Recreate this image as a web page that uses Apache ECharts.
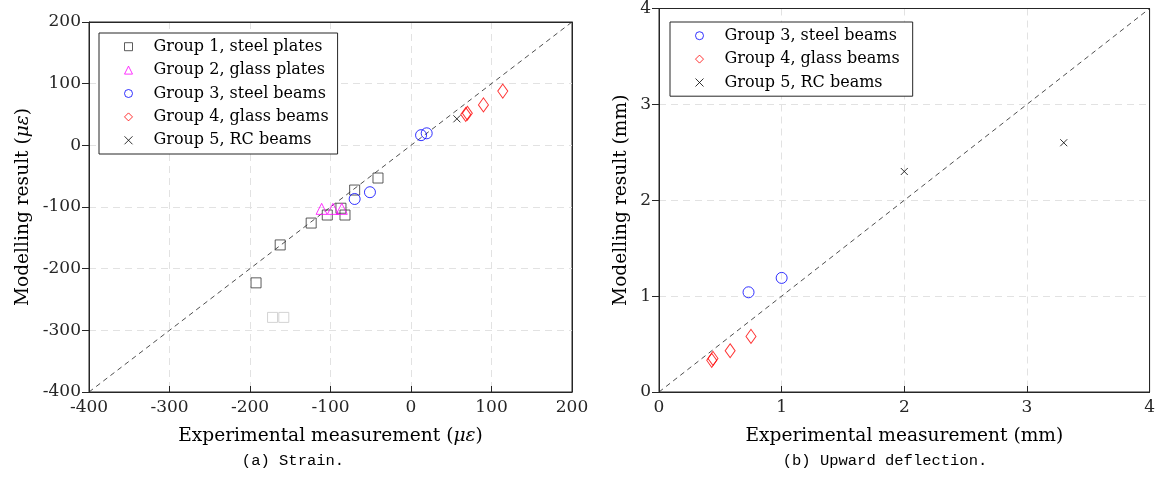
<!DOCTYPE html>
<html><head><meta charset="utf-8">
<script src="https://cdn.jsdelivr.net/npm/echarts@6/dist/echarts.min.js"></script>
<style>html,body{margin:0;padding:0;background:#fff}#c{width:1158px;height:499px}</style>
</head><body><div id="c"></div>
<script>
// ---- data ----
const strainTicks = [-400, -300, -200, -100, 0, 100, 200];
const deflTicks = [0, 1, 2, 3, 4];
const groupNames = ['Group 1, steel plates', 'Group 2, glass plates', 'Group 3, steel beams', 'Group 4, glass beams', 'Group 5, RC beams'];
const strainGroup1 = [[-192.5, -223], [-162.5, -161.5], [-124, -126], [-104, -113], [-87, -102], [-82, -113], [-70, -72.5], [-41, -53]];
const strainGroup1Excluded = [[-172, -279], [-158, -279]];
const strainGroup2 = [[-111, -103], [-97, -103], [-86, -103]];
const strainGroup3 = [[-70, -87], [-51, -76], [12.5, 16.5], [19.5, 19.5]];
const strainGroup4 = [[68, 50], [70, 52], [90, 65.5], [114, 88]];
const strainGroup5 = [[57, 43]];
const deflGroup3 = [[0.73, 1.04], [1.0, 1.19]];
const deflGroup4 = [[0.43, 0.33], [0.44, 0.35], [0.58, 0.43], [0.75, 0.58]];
const deflGroup5 = [[2.0, 2.3], [3.3, 2.6]];
const captions = ['(a) Strain.', '(b) Upward deflection.'];

// ---- styling ----
const FONT = 'DejaVu Serif';
const XPATH = 'path://M0,0L10,10M0,10L10,0';
function axisBase(ticks, pos, isY) {
  return {
    type: 'value', position: pos,
    min: ticks[0], max: ticks[ticks.length - 1], interval: ticks[1] - ticks[0],
    axisLine: { show: true, onZero: false, lineStyle: { color: '#262626', width: 1 } },
    axisTick: { show: true, inside: !isY, length: isY ? 7 : 6, lineStyle: { color: '#262626' } },
    axisLabel: { show: true, color: '#262626', fontFamily: FONT, fontSize: 17, margin: isY ? 8 : 7, formatter: v => String(v) },
    splitLine: { show: true, lineStyle: { color: '#e2e2e2', type: [7, 5], width: 1 } },
    z: 1
  };
}
function frameAxis(ticks, pos, gi) {
  return {
    type: 'value', position: pos, gridIndex: gi,
    min: ticks[0], max: ticks[ticks.length - 1], interval: ticks[1] - ticks[0],
    axisLine: { show: true, onZero: false, lineStyle: { color: '#262626', width: 1 } },
    axisTick: { show: false }, axisLabel: { show: false }, splitLine: { show: false }, z: 5
  };
}
function sc(name, data, xi, yi, symbol, size, color) {
  return {
    type: 'scatter', name, data, xAxisIndex: xi, yAxisIndex: yi, symbol, symbolSize: size,
    itemStyle: { color: 'transparent', borderColor: color, borderWidth: 1 },
    emphasis: { disabled: true }, z: 3
  };
}
function diag(ticks, xi, yi) {
  return {
    type: 'line', data: [[ticks[0], ticks[0]], [ticks[ticks.length - 1], ticks[ticks.length - 1]]],
    xAxisIndex: xi, yAxisIndex: yi, symbol: 'none', silent: true,
    lineStyle: { color: '#222', width: 0.8, type: [5, 4] }, z: 2
  };
}
const legendBase = {
  orient: 'vertical', itemWidth: 8, itemHeight: 8, itemGap: 0,
  backgroundColor: '#fff', borderColor: '#262626', borderWidth: 1, borderRadius: 0,
  itemStyle: { borderWidth: 1 },
  textStyle: { fontFamily: FONT, fontSize: 16, color: '#000', lineHeight: 23.4, padding: [0, 0, 0, 16] },
  selectedMode: false
};
const nameStyle = { fontFamily: FONT, fontSize: 18.6, color: '#000', rich: { i: { fontFamily: FONT, fontStyle: 'italic', fontSize: 18.6 } } };
const capFont = '15.5px "Liberation Mono"';

const option = {
  animation: false,
  backgroundColor: '#fff',
  grid: [
    { left: 89, top: 22, width: 483, height: 370, show: true, borderColor: '#262626', borderWidth: 1, backgroundColor: '#fff' },
    { left: 659, top: 7, width: 495, height: 385, show: true, borderColor: '#262626', borderWidth: 1, backgroundColor: '#fff' }
  ],
  xAxis: [
    Object.assign(axisBase(strainTicks, 'bottom', false), { gridIndex: 0, name: 'Experimental measurement ({i|με})', nameLocation: 'middle', nameGap: 35, nameTextStyle: nameStyle }),
    Object.assign(axisBase(deflTicks, 'bottom', false), { gridIndex: 1, name: 'Experimental measurement (mm)', nameLocation: 'middle', nameGap: 35, nameTextStyle: nameStyle }),
    frameAxis(strainTicks, 'top', 0),
    frameAxis(deflTicks, 'top', 1)
  ],
  yAxis: [
    Object.assign(axisBase(strainTicks, 'left', true), { gridIndex: 0, name: 'Modelling result ({i|με})', nameLocation: 'middle', nameGap: 56, nameTextStyle: nameStyle }),
    Object.assign(axisBase(deflTicks, 'left', true), { gridIndex: 1, name: 'Modelling result (mm)', nameLocation: 'middle', nameGap: 28, nameTextStyle: nameStyle }),
    frameAxis(strainTicks, 'right', 0),
    frameAxis(deflTicks, 'right', 1)
  ],
  legend: [
    Object.assign({}, legendBase, { left: 99, top: 33, padding: [2, 9, 2, 25], data: groupNames }),
    Object.assign({}, legendBase, { left: 670, top: 22, padding: [2, 8, 2, 25], data: groupNames.slice(2).map(n => n + ' ') })
  ],
  series: [
    diag(strainTicks, 0, 0),
    diag(deflTicks, 1, 1),
    sc('excluded', strainGroup1Excluded, 0, 0, 'rect', 10, '#c8c8c8'),
    sc(groupNames[0], strainGroup1, 0, 0, 'rect', 10, '#333'),
    sc(groupNames[1], strainGroup2, 0, 0, 'triangle', 11, '#ff00ff'),
    sc(groupNames[2], strainGroup3, 0, 0, 'circle', 11, '#0000ff'),
    sc(groupNames[3], strainGroup4, 0, 0, 'diamond', [10, 14], '#ff0000'),
    sc(groupNames[4], strainGroup5, 0, 0, XPATH, 7, '#000'),
    sc(groupNames[2] + ' ', deflGroup3, 1, 1, 'circle', 11, '#0000ff'),
    sc(groupNames[3] + ' ', deflGroup4, 1, 1, 'diamond', [10, 14], '#ff0000'),
    sc(groupNames[4] + ' ', deflGroup5, 1, 1, XPATH, 7, '#000')
  ],
  graphic: [
    { type: 'text', x: 293, y: 461, style: { text: captions[0], font: capFont, fill: '#000', align: 'center', verticalAlign: 'middle' } },
    { type: 'text', x: 885, y: 461, style: { text: captions[1], font: capFont, fill: '#000', align: 'center', verticalAlign: 'middle' } }
  ]
};
const chart = echarts.init(document.getElementById('c'), null, { renderer: 'canvas' });
chart.setOption(option);
</script>
</body></html>
